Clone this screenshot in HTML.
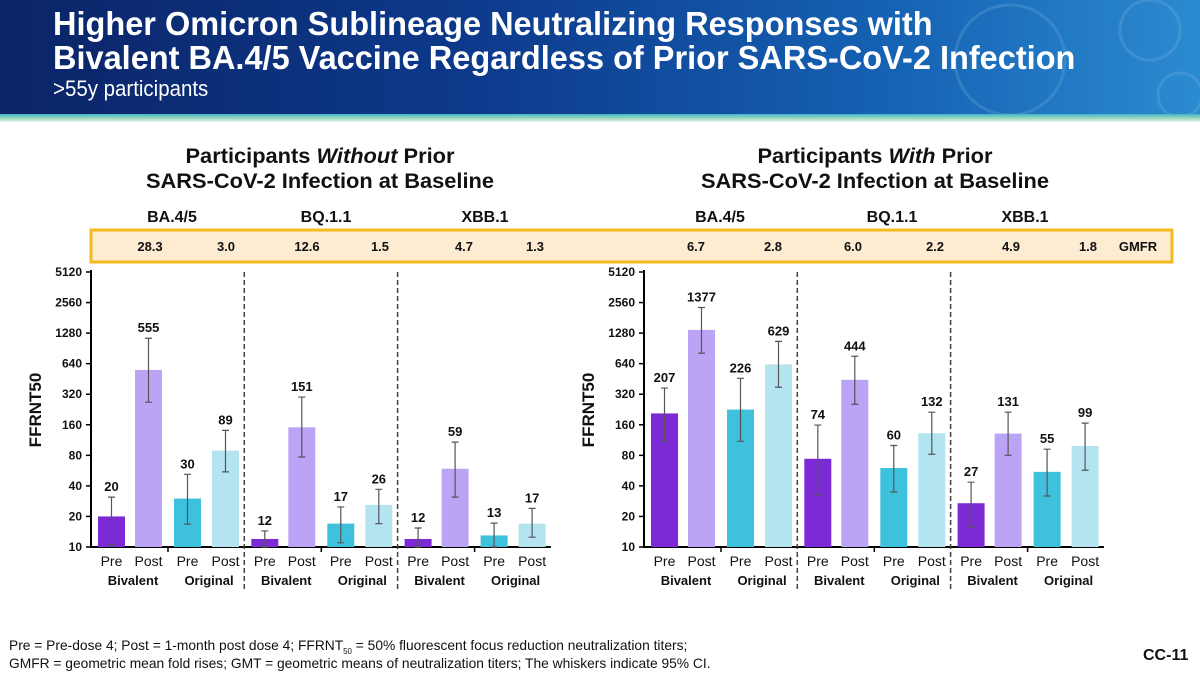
<!DOCTYPE html>
<html><head><meta charset="utf-8"><style>
body{margin:0;width:1200px;height:675px;overflow:hidden;background:#fff;font-family:"Liberation Sans",Arial,sans-serif;position:relative}
.hdr{position:absolute;left:0;top:0;width:1200px;height:114px;background:linear-gradient(90deg,#0b2466 0%,#0d3a8c 40%,#1663b4 75%,#2c8bd0 100%)}
.strip{position:absolute;left:0;top:114px;width:1200px;height:8px;background:linear-gradient(180deg,#3fb6c8,#a8dcc0 60%,#e8f6f4)}
.t{position:absolute;color:#fff;font-weight:bold;white-space:nowrap;transform-origin:0 0}
</style></head><body>
<div class="hdr">
<svg width="1200" height="114" style="position:absolute;left:0;top:0">
<g fill="none" stroke="#7fb8e0" stroke-opacity="0.25" stroke-width="3">
<circle cx="1010" cy="60" r="55"/><circle cx="1150" cy="30" r="30"/><circle cx="1180" cy="95" r="22"/>
</g></svg>
<div class="t" style="left:53px;top:5px;font-size:33px;transform:scaleX(0.985)">Higher Omicron Sublineage Neutralizing Responses with</div>
<div class="t" style="left:53px;top:39px;font-size:33px;transform:scaleX(0.985)">Bivalent BA.4/5 Vaccine Regardless of Prior SARS-CoV-2 Infection</div>
<div class="t" style="left:53px;top:76px;font-size:22px;font-weight:normal;transform:scaleX(0.93)">&gt;55y participants</div>
</div>
<div class="strip"></div>
<svg id="chart" width="1200" height="675" style="position:absolute;left:0;top:0"></svg>
<script>
const variants=["BA.4/5","BQ.1.1","XBB.1"];
const categories=["Pre","Post","Pre","Post"];
const vaccines=["Bivalent","Original"];
const yTicks=[10,20,40,80,160,320,640,1280,2560,5120];
const leftGmt=[20,555,30,89,12,151,17,26,12,59,13,17];
const leftLo=[10.5,267,16.8,55,10,77,11,17,10,31,10,12.5];
const leftHi=[31,1140,52,141,14.4,300,24.8,37,15.4,108,17.2,24];
const rightGmt=[207,1377,226,629,74,444,60,132,27,131,55,99];
const rightLo=[110,810,110,375,32.5,255,34.8,82,15.7,80,31.8,57];
const rightHi=[368,2290,459,1062,159,757,100,213,43.5,213,92,166];
const leftGmfr=["28.3","3.0","12.6","1.5","4.7","1.3"];
const rightGmfr=["6.7","2.8","6.0","2.2","4.9","1.8"];
const colors=["#7b2ad6","#bba3f5","#3ec1dc","#b3e4f0"];
const NS="http://www.w3.org/2000/svg";
const svg=document.getElementById('chart');
function el(tag,attrs,text){const e=document.createElementNS(NS,tag);for(const k in attrs)e.setAttribute(k,attrs[k]);if(text!==undefined)e.textContent=text;svg.appendChild(e);return e;}
const Y0=547,YTOP=272;
function y(v){return Y0-(Y0-YTOP)*Math.log2(v/10)/Math.log2(512);}
const GW=153.3,OFF=[7,44,83,121],BW=27;
let b=el('rect',{x:91,y:230,width:1081,height:32,fill:'#fdebd2',stroke:'#f5bb1e','stroke-width':3});


function panel(ax,gmt,lo,hi,gm,title1,pname,titleX,varX,gmX){
  let t=el('text',{x:titleX,y:163,'text-anchor':'middle','font-size':21,'font-weight':'bold',fill:'#111',transform:`translate(${titleX},0) scale(1.04,1) translate(${-titleX},0)`});
  
  
  t.innerHTML='Participants <tspan font-style="italic">'+title1+'</tspan> Prior';
  let t2=el('text',{x:titleX,y:188,'text-anchor':'middle','font-size':21,'font-weight':'bold',fill:'#111',transform:`translate(${titleX},0) scale(1.04,1) translate(${-titleX},0)`},'SARS-CoV-2 Infection at Baseline');
  
  
  let a=el('line',{x1:ax,y1:YTOP-2,x2:ax,y2:Y0+1,stroke:'#000','stroke-width':2});
  
  
  let xa=el('line',{x1:ax,y1:Y0,x2:ax+3*GW,y2:Y0,stroke:'#000','stroke-width':2});
  
  
  yTicks.forEach(v=>{
    el('line',{x1:ax-5,y1:y(v),x2:ax,y2:y(v),stroke:'#000','stroke-width':1.5});
    let tl=el('text',{x:ax-9,y:y(v)+4,'text-anchor':'end','font-size':12,'font-weight':'bold',fill:'#111'},String(v));
    
    
  });
  let yt=el('text',{x:0,y:0,transform:`translate(${ax-50},${410}) rotate(-90)`,'text-anchor':'middle','font-size':17,'font-weight':'bold',fill:'#111'},'FFRNT50');
  
  
  for(let g=0;g<3;g++){
    const gx=ax+g*GW;
    if(g>0){let d=el('line',{x1:gx,y1:YTOP,x2:gx,y2:592,stroke:'#444','stroke-width':1.5,'stroke-dasharray':'5,3'});
      
      }
    el('line',{x1:gx+77,y1:Y0,x2:gx+77,y2:Y0+5,stroke:'#000','stroke-width':1.5});
    let vl=el('text',{x:ax+varX[g],y:222,'text-anchor':'middle','font-size':16,'font-weight':'bold',fill:'#111'},variants[g]);
    
    
    for(let k=0;k<2;k++){
      let gv=el('text',{x:ax+gmX[g*2+k],y:251,'text-anchor':'middle','font-size':13,'font-weight':'bold',fill:'#111'},gm[g*2+k]);
      
      
    }
    for(let i=0;i<4;i++){
      const idx=g*4+i,bx=gx+OFF[i],cx=bx+BW/2;
      let r=el('rect',{x:bx,y:y(gmt[idx]),width:BW,height:Y0-y(gmt[idx]),fill:colors[i]});
      
      
      const yh=y(hi[idx]),yl=y(lo[idx]);
      let w=el('path',{d:`M${cx},${yh}V${yl}M${cx-3.5},${yh}H${cx+3.5}M${cx-3.5},${yl}H${cx+3.5}`,stroke:'#555','stroke-width':1.2,fill:'none'});
      
      
      let lv=el('text',{x:cx,y:Math.min(yh,y(gmt[idx]))-6,'text-anchor':'middle','font-size':13,'font-weight':'bold',fill:'#111'},String(gmt[idx]));
      
      
      let cl=el('text',{x:cx,y:566,'text-anchor':'middle','font-size':14,fill:'#111'},categories[i]);
      
      
    }
    for(let k=0;k<2;k++){
      let vc=el('text',{x:gx+OFF[k*2]+BW+8,y:585,'text-anchor':'middle','font-size':13,'font-weight':'bold',fill:'#111'},vaccines[k]);
      
      
    }
  }
}
panel(91,leftGmt,leftLo,leftHi,leftGmfr,'Without','left-panel',320,[81,235,394],[59,135,216,289,373,444]);
panel(644,rightGmt,rightLo,rightHi,rightGmfr,'With','right-panel',875,[76,248,381],[52,129,209,291,367,444]);
let gl=el('text',{x:1138,y:251,'text-anchor':'middle','font-size':13,'font-weight':'bold',fill:'#111'},'GMFR');


</script>
<div style="position:absolute;left:9px;top:636px;font-size:14px;line-height:18px;color:#111;transform:scaleX(0.985);transform-origin:0 0;white-space:nowrap">Pre = Pre-dose 4; Post = 1-month post dose 4; FFRNT<sub style="font-size:8px;line-height:0">50</sub> = 50% fluorescent focus reduction neutralization titers;<br>GMFR = geometric mean fold rises; GMT = geometric means of neutralization titers; The whiskers indicate 95% CI.</div>
<div style="position:absolute;left:1143px;top:647px;font-size:16px;font-weight:bold;color:#111">CC-11</div>
</body></html>
